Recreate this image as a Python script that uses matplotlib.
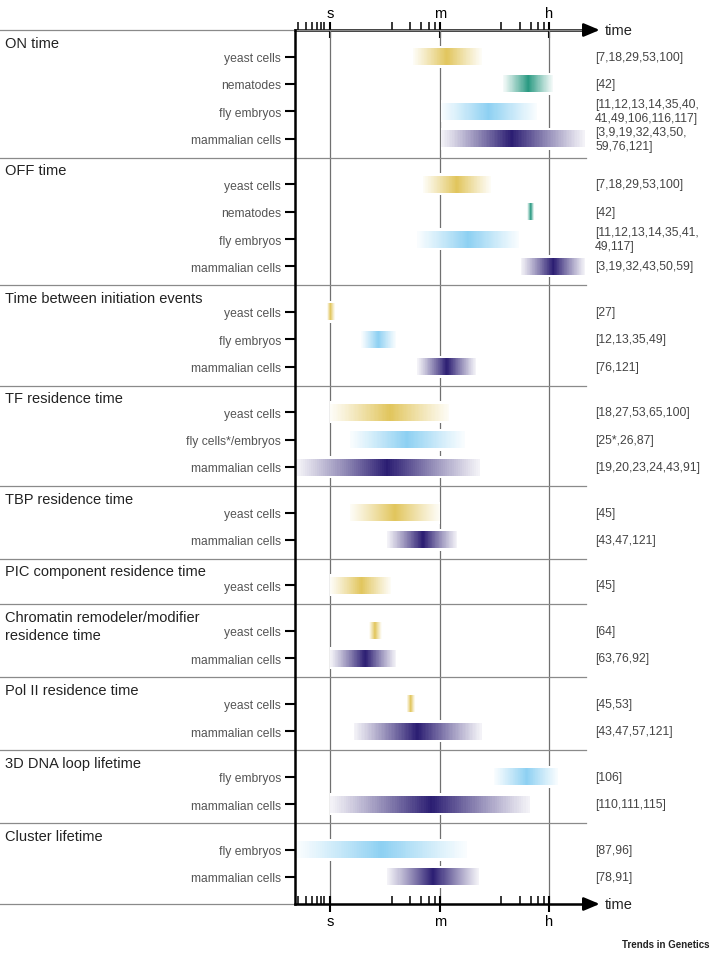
import numpy as np
import matplotlib.pyplot as plt
from matplotlib.colors import to_rgb
from matplotlib.ticker import FixedLocator, NullFormatter
from matplotlib.transforms import blended_transform_factory

plt.rcParams['font.family'] = ['Liberation Sans', 'DejaVu Sans']

# section titles and how many rows each one holds
sections = ["ON time", "OFF time", "Time between initiation events",
            "TF residence time", "TBP residence time",
            "PIC component residence time",
            "Chromatin remodeler/modifier\nresidence time",
            "Pol II residence time", "3D DNA loop lifetime", "Cluster lifetime"]
section_rows = [4, 4, 3, 3, 2, 1, 2, 2, 2, 2]

# one entry per row, top to bottom (times in seconds)
organisms = ["yeast cells", "nematodes", "fly embryos", "mammalian cells",
             "yeast cells", "nematodes", "fly embryos", "mammalian cells",
             "yeast cells", "fly embryos", "mammalian cells",
             "yeast cells", "fly cells*/embryos", "mammalian cells",
             "yeast cells", "mammalian cells",
             "yeast cells",
             "yeast cells", "mammalian cells",
             "yeast cells", "mammalian cells",
             "fly embryos", "mammalian cells",
             "fly embryos", "mammalian cells"]
t_low = [22, 645, 62, 62,
         32, 1580, 26, 1250,
         0.89, 3.2, 26,
         1.0, 2.1, 0.285,
         2.1, 8.4,
         1.0,
         4.3, 1.0,
         17.4, 2.4,
         455, 1.0,
         0.29, 8.4]
t_peak = [78, 1640, 368, 880,
          113, 1800, 174, 4180,
          1.0, 6.0, 78,
          9.3, 17.4, 8.5,
          11.2, 32,
          3.2,
          5.3, 3.7,
          20.2, 26,
          1550, 44,
          6.8, 47]
t_high = [288, 4090, 2300, 13700,
          407, 2030, 1170, 13700,
          1.19, 11.7, 232,
          86, 154, 270,
          60, 115,
          9.7,
          6.8, 11.7,
          23.7, 288,
          5040, 1750,
          164, 263]
refs = ["[7,18,29,53,100]", "[42]", "[11,12,13,14,35,40,\n41,49,106,116,117]",
        "[3,9,19,32,43,50,\n59,76,121]",
        "[7,18,29,53,100]", "[42]", "[11,12,13,14,35,41,\n49,117]",
        "[3,19,32,43,50,59]",
        "[27]", "[12,13,35,49]", "[76,121]",
        "[18,27,53,65,100]", "[25*,26,87]", "[19,20,23,24,43,91]",
        "[45]", "[43,47,121]",
        "[45]",
        "[64]", "[63,76,92]",
        "[45,53]", "[43,47,57,121]",
        "[106]", "[110,111,115]",
        "[87,96]", "[78,91]"]

colors = {"yeast cells": "#e1c55c", "nematodes": "#2a9a82",
          "fly embryos": "#8dd0f2", "fly cells*/embryos": "#8dd0f2",
          "mammalian cells": "#2b1d72"}

fig = plt.figure(figsize=(7.14, 9.54), dpi=100)
ax = fig.add_axes([295 / 714, 49 / 954, 291 / 714, 874 / 954])
ax.set_xscale('log')
ax.set_xlim(0.267, 14200)
ax.set_ylim(905, 31)

# vertical layout in pixel-like units
row_y = []
sep_y = [31]
y = 31
for n in section_rows:
    first = y + 26.5
    rows = [first + i * 27.4 for i in range(n)]
    row_y += rows
    y = rows[-1] + 19
    sep_y.append(y)
sep_y[-1] = 905

# grid and separators
for t in [1, 60, 3600]:
    ax.axvline(t, color='#707070', lw=0.9, zorder=1)
for s in sep_y:
    ax.axhline(s, xmin=-295 / 291, xmax=1, color='#8a8a8a', lw=0.9,
               clip_on=False, zorder=1)

# gradient bars
bar_h = 17
nseg = 90
for i, org in enumerate(organisms):
    lo, pk, hi = np.log10(t_low[i]), np.log10(t_peak[i]), np.log10(t_high[i])
    c = np.array(to_rgb(colors[org]))
    ax.barh(row_y[i], t_high[i] - t_low[i], left=t_low[i], height=bar_h + 5,
            color='white', lw=0, zorder=2)
    edges = np.linspace(lo, hi, nseg + 1)
    mids = (edges[:-1] + edges[1:]) / 2
    d = np.where(mids < pk, (pk - mids) / max(pk - lo, 1e-9),
                 (mids - pk) / max(hi - pk, 1e-9))
    f = 0.05 + 0.95 * np.clip(1 - d, 0, 1) ** 1.1
    cols = 1 - f[:, None] * (1 - c[None, :])
    left = 10 ** edges[:-1]
    width = 10 ** edges[1:] - left
    ax.barh(np.full(nseg, row_y[i]), width * 1.002, left=left, height=bar_h,
            color=cols, lw=0, antialiased=False, zorder=3)

# spines
for sp in ['top', 'right']:
    ax.spines[sp].set_visible(False)
ax.spines['left'].set_linewidth(1.8)
ax.spines['bottom'].set_linewidth(1.8)

ax.set_yticks(row_y)
ax.set_yticklabels(organisms)
ax.tick_params(axis='y', direction='out', length=7, width=1.5, labelsize=8.7,
               labelcolor='#555555', pad=3)

major = [1, 60, 3600]
minor = [0.3, 0.4, 0.5, 0.6, 0.7, 0.8,
         10, 20, 30, 40, 50,
         600, 1200, 1800, 2400, 3000]
ax.set_xticks(major)
ax.set_xticklabels(['s', 'm', 'h'])
ax.xaxis.set_minor_locator(FixedLocator(minor))
ax.xaxis.set_minor_formatter(NullFormatter())
ax.tick_params(axis='x', which='major', direction='inout', length=12,
               width=1.5, labelsize=10.5, pad=1)
ax.tick_params(axis='x', which='minor', direction='in', length=6, width=1.1)

sec = ax.secondary_xaxis('top')
sec.set_xticks(major)
sec.set_xticklabels(['s', 'm', 'h'])
sec.xaxis.set_minor_locator(FixedLocator(minor))
sec.xaxis.set_minor_formatter(NullFormatter())
sec.spines['top'].set_linewidth(1.8)
sec.tick_params(axis='x', which='major', direction='inout', length=12,
                width=1.5, labelsize=10.5, pad=1.5)
sec.tick_params(axis='x', which='minor', direction='out', length=6, width=1.1)

# arrow heads and "time" labels
for yy in [0, 1]:
    ax.annotate('', xy=(1.047, yy), xycoords='axes fraction',
                xytext=(0.99, yy),
                arrowprops=dict(arrowstyle='-|>,head_length=0.95,head_width=0.4',
                                color='black', lw=1.8, shrinkA=0, shrinkB=0))
    fig.text(605 / 714, 1 - (31 if yy else 905) / 954, 'time', va='center',
             ha='left', fontsize=10.5, color='#222222')

# section titles and references
tr = blended_transform_factory(fig.transFigure, ax.transData)
for k, name in enumerate(sections):
    ax.text(5 / 714, sep_y[k] + 5.5, name, transform=tr, ha='left', va='top',
            fontsize=10.5, color='#222222', linespacing=1.4, clip_on=False)
for i, r in enumerate(refs):
    ax.text(595 / 714, row_y[i], r, transform=tr, ha='left', va='center',
            fontsize=8.8, color='#444444', linespacing=1.25, clip_on=False)

fig.text(710 / 714, 1 - 945 / 954, 'Trends in Genetics', ha='right',
         va='center', fontsize=7, fontweight='bold', color='#222222')

fig.savefig('out.png', dpi=100)
